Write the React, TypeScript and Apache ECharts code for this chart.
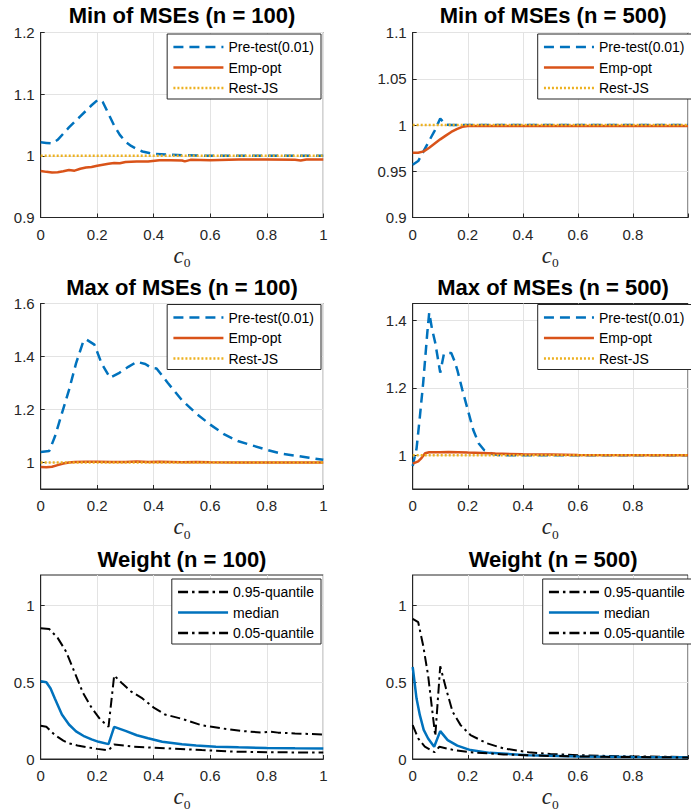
import React, { useEffect, useRef } from 'react';
import * as echarts from 'echarts';

// ---------- texts & ticks ----------
const TITLES = [
  'Min of MSEs (n = 100)',
  'Min of MSEs (n = 500)',
  'Max of MSEs (n = 100)',
  'Max of MSEs (n = 500)',
  'Weight (n = 100)',
  'Weight (n = 500)',
];
const MSE_NAMES = ['Pre-test(0.01)', 'Emp-opt', 'Rest-JS'];
const WEIGHT_NAMES = ['0.95-quantile', 'median', '0.05-quantile'];

const X_TICKS = [0, 0.2, 0.4, 0.6, 0.8, 1];
const Y_TICKS_MIN100 = [0.9, 1, 1.1, 1.2];
const Y_TICKS_MIN500 = [0.9, 0.95, 1, 1.05, 1.1];
const Y_TICKS_MAX100 = [1, 1.2, 1.4, 1.6];
const Y_TICKS_MAX500 = [1, 1.2, 1.4];
const Y_TICKS_WEIGHT = [0, 0.5, 1];

const Y_RANGES = [
  [0.9, 1.2],
  [0.9, 1.1],
  [0.9, 1.6],
  [0.9, 1.45],
  [0, 1.2],
  [0, 1.2],
];

// ---------- data: [c0, value] ----------
const minN100Pretest = [
  [0, 1.022], [0.02, 1.021], [0.04, 1.02], [0.06, 1.026], [0.08, 1.036], [0.1, 1.046],
  [0.12, 1.055], [0.14, 1.064], [0.16, 1.073], [0.18, 1.082], [0.2, 1.09], [0.21, 1.091],
  [0.22, 1.087], [0.24, 1.068], [0.26, 1.049], [0.28, 1.034], [0.3, 1.023], [0.32, 1.016],
  [0.34, 1.011], [0.36, 1.007], [0.38, 1.005], [0.4, 1.003], [0.45, 1.002], [0.5, 1.001],
  [0.55, 1.0005], [0.6, 1.0], [1, 1.0],
];
const minN100Emp = [
  [0, 0.9755], [0.02, 0.974], [0.04, 0.973], [0.06, 0.9735], [0.08, 0.975], [0.1, 0.977],
  [0.12, 0.976], [0.14, 0.979], [0.16, 0.981], [0.18, 0.982], [0.2, 0.984], [0.22, 0.9855],
  [0.24, 0.987], [0.26, 0.9885], [0.28, 0.988], [0.3, 0.99], [0.34, 0.991], [0.38, 0.991],
  [0.42, 0.993], [0.46, 0.993], [0.5, 0.9925], [0.51, 0.991], [0.53, 0.9935], [0.6, 0.993],
  [0.7, 0.994], [0.8, 0.994], [0.9, 0.9935], [0.92, 0.9925], [0.94, 0.994], [1, 0.994],
];
const minN500Pretest = [
  [0, 0.957], [0.02, 0.961], [0.04, 0.972], [0.06, 0.983], [0.08, 0.994], [0.1, 1.007],
  [0.12, 1.0005], [0.14, 1.0], [1, 1.0],
];
const minN500Emp = [
  [0, 0.97], [0.02, 0.97], [0.04, 0.9715], [0.06, 0.9755], [0.08, 0.98], [0.1, 0.9845],
  [0.12, 0.9885], [0.14, 0.9925], [0.16, 0.9955], [0.18, 0.998], [0.2, 0.999], [0.3, 0.999],
  [1, 0.999],
];
const maxN100Pretest = [
  [0, 1.04], [0.03, 1.043], [0.05, 1.097], [0.075, 1.185], [0.1, 1.273], [0.125, 1.374],
  [0.15, 1.455], [0.16, 1.465], [0.19, 1.445], [0.215, 1.375], [0.245, 1.32], [0.275, 1.336],
  [0.31, 1.361], [0.34, 1.38], [0.37, 1.372], [0.39, 1.358], [0.41, 1.355], [0.45, 1.3],
  [0.5, 1.235], [0.55, 1.185], [0.6, 1.143], [0.65, 1.106], [0.7, 1.08], [0.75, 1.064],
  [0.8, 1.048], [0.85, 1.034], [0.9, 1.026], [0.95, 1.018], [1, 1.01],
];
const maxN100Emp = [
  [0, 0.983], [0.02, 0.982], [0.04, 0.984], [0.06, 0.99], [0.08, 0.996], [0.1, 1.0],
  [0.12, 1.002], [0.16, 1.003], [0.2, 1.003], [0.25, 1.002], [0.3, 1.002], [0.34, 1.0035],
  [0.38, 1.002], [0.42, 1.003], [0.46, 1.002], [0.5, 1.001], [0.55, 1.0015], [0.6, 1.0005],
  [0.7, 1.0], [1, 1.0],
];
const maxN500Pretest = [
  [0, 0.968], [0.014, 1.02], [0.026, 1.114], [0.038, 1.214], [0.046, 1.293], [0.053, 1.363],
  [0.06, 1.423], [0.07, 1.375], [0.082, 1.333], [0.091, 1.289], [0.1, 1.245], [0.113, 1.299],
  [0.12, 1.303], [0.14, 1.303], [0.152, 1.279], [0.163, 1.25], [0.18, 1.195], [0.2, 1.135],
  [0.22, 1.075], [0.24, 1.035], [0.26, 1.015], [0.29, 1.004], [0.32, 1.0], [1, 1.0],
];
const maxN500Emp = [
  [0, 0.975], [0.02, 0.982], [0.03, 0.99], [0.045, 1.006], [0.06, 1.009], [0.1, 1.009],
  [0.13, 1.01], [0.2, 1.008], [0.25, 1.007], [0.3, 1.005], [0.4, 1.003], [0.5, 1.002],
  [0.6, 1.001], [1, 1.0],
];
const restJS = [[0, 1], [1, 1]];

const w100Q95 = [
  [0, 0.853], [0.03, 0.848], [0.06, 0.79], [0.09, 0.7], [0.12, 0.565], [0.15, 0.43],
  [0.18, 0.335], [0.21, 0.26], [0.24, 0.21], [0.26, 0.545], [0.29, 0.49], [0.32, 0.44],
  [0.36, 0.395], [0.4, 0.335], [0.44, 0.29], [0.5, 0.262], [0.57, 0.22], [0.64, 0.2],
  [0.71, 0.183], [0.78, 0.173], [0.81, 0.178], [0.84, 0.172], [0.9, 0.167], [1, 0.16],
];
const w100Median = [
  [0, 0.507], [0.02, 0.5], [0.035, 0.46], [0.05, 0.394], [0.075, 0.29], [0.1, 0.225],
  [0.125, 0.18], [0.155, 0.147], [0.18, 0.128], [0.205, 0.112], [0.24, 0.097], [0.26, 0.21],
  [0.3, 0.183], [0.34, 0.155], [0.38, 0.135], [0.43, 0.113], [0.5, 0.096], [0.55, 0.088],
  [0.62, 0.08], [0.7, 0.076], [0.8, 0.072], [0.9, 0.07], [1, 0.069],
];
const w100Q05 = [
  [0, 0.217], [0.02, 0.21], [0.05, 0.156], [0.08, 0.12], [0.1, 0.102], [0.13, 0.088],
  [0.16, 0.078], [0.2, 0.066], [0.24, 0.057], [0.26, 0.095], [0.33, 0.08], [0.45, 0.069],
  [0.57, 0.058], [0.69, 0.048], [0.8, 0.044], [1, 0.042],
];
const w500Q95 = [
  [0, 0.914], [0.02, 0.892], [0.038, 0.74], [0.056, 0.545], [0.073, 0.286], [0.082, 0.15],
  [0.1, 0.605], [0.121, 0.459], [0.145, 0.308], [0.174, 0.221], [0.21, 0.156], [0.27, 0.102],
  [0.33, 0.069], [0.42, 0.044], [0.5, 0.033], [0.6, 0.025], [0.7, 0.02], [0.8, 0.017],
  [0.9, 0.015], [1, 0.013],
];
const w500Median = [
  [0, 0.6], [0.014, 0.394], [0.026, 0.286], [0.04, 0.19], [0.056, 0.134], [0.078, 0.08],
  [0.1, 0.182], [0.127, 0.123], [0.162, 0.087], [0.21, 0.058], [0.28, 0.04], [0.42, 0.025],
  [0.6, 0.017], [0.8, 0.013], [1, 0.011],
];
const w500Q05 = [
  [0, 0.221], [0.02, 0.134], [0.044, 0.08], [0.079, 0.044], [0.097, 0.08], [0.15, 0.058],
  [0.21, 0.044], [0.33, 0.03], [0.5, 0.02], [0.7, 0.014], [1, 0.01],
];

// ---------- styling ----------
const FONT = "'Liberation Sans', Arial, Helvetica, sans-serif";
const SERIF = "'Liberation Serif', 'Times New Roman', serif";
const AX = '#262626';
const BLUE = '#0072BD';
const ORANGE = '#D95319';
const YELLOW = '#EDB120';
const DASH = [10, 6];
const DOT = [2, 2];
const DASHDOT = [10, 4, 2.5, 4];

const GRIDS = [
  { left: 40.7, top: 32.5, width: 282.6, height: 185 },
  { left: 412.7, top: 32.5, width: 280.8, height: 185 },
  { left: 40.7, top: 303.5, width: 282.6, height: 185.5 },
  { left: 412.7, top: 303.5, width: 280.8, height: 185.5 },
  { left: 40.7, top: 575, width: 282.6, height: 185.7 },
  { left: 412.7, top: 575, width: 280.8, height: 185.7 },
];
const TITLE_TOPS = [4.5, 276, 548];
const LEGEND_TOPS = [34, 304.5, 579];

const fmt = (v: number) => String(Math.round(v * 1000) / 1000);

function buildOption() {
  const yTicks = [Y_TICKS_MIN100, Y_TICKS_MIN500, Y_TICKS_MAX100, Y_TICKS_MAX500, Y_TICKS_WEIGHT, Y_TICKS_WEIGHT];
  const grid = GRIDS.map((g) => ({
    ...g,
    show: true,
    borderColor: AX,
    borderWidth: 1,
    backgroundColor: '#fff',
    containLabel: false,
  }));
  const xAxis = GRIDS.map((g, i) => ({
    type: 'value',
    gridIndex: i,
    min: 0,
    max: 1,
    axisLine: { show: true, onZero: false, lineStyle: { color: AX, width: 1 } },
    axisTick: { show: true, inside: true, length: 4, customValues: X_TICKS, lineStyle: { color: AX } },
    axisLabel: {
      customValues: X_TICKS,
      margin: 9,
      fontFamily: FONT,
      fontSize: 15,
      color: AX,
      formatter: (v: number) => (i % 2 === 1 && v === 1 ? '' : fmt(v)),
    },
    splitLine: { show: true, lineStyle: { color: '#e3e3e3', width: 1 } },
    name: '{c|c}{s|0}',
    nameLocation: 'middle',
    nameGap: 26,
    nameTextStyle: {
      rich: {
        c: { fontFamily: SERIF, fontStyle: 'italic', fontSize: 23, color: AX, verticalAlign: 'bottom', padding: [0, 0, 3, 0] },
        s: { fontFamily: SERIF, fontSize: 13.5, color: AX, verticalAlign: 'bottom' },
      },
    },
  }));
  const yAxis = GRIDS.map((g, i) => ({
    type: 'value',
    gridIndex: i,
    min: Y_RANGES[i][0],
    max: Y_RANGES[i][1],
    axisLine: { show: true, onZero: false, lineStyle: { color: AX, width: 1 } },
    axisTick: { show: true, inside: true, length: 4, customValues: yTicks[i], lineStyle: { color: AX } },
    axisLabel: { customValues: yTicks[i], margin: 6, fontFamily: FONT, fontSize: 15, color: AX, formatter: fmt },
    splitLine: { show: true, lineStyle: { color: '#e3e3e3', width: 1 } },
  }));
  const title = TITLES.map((t, i) => ({
    text: t,
    left: GRIDS[i].left + GRIDS[i].width / 2,
    top: TITLE_TOPS[Math.floor(i / 2)],
    textAlign: 'center',
    padding: 0,
    textStyle: { fontFamily: FONT, fontSize: 22, fontWeight: 'bold', color: '#000' },
  }));
  const legend = TITLES.map((t, i) => {
    const pos: any = i % 2 === 0 ? { right: 370 } : { left: i < 4 ? 537.7 : 542.7 };
    return {
      ...pos,
      top: LEGEND_TOPS[Math.floor(i / 2)],
      orient: 'vertical',
      data: i < 4 ? MSE_NAMES : WEIGHT_NAMES,
      itemWidth: 50,
      itemHeight: 14,
      itemGap: 6.5,
      padding: [6, 7, 4, 5],
      backgroundColor: '#fff',
      borderColor: AX,
      borderWidth: 1,
      borderRadius: 0,
      selectedMode: false,
      itemStyle: { opacity: 0, borderWidth: 0 },
      lineStyle: { width: 2.5 },
      textStyle: { fontFamily: FONT, fontSize: 14, color: '#000' },
    };
  });

  const line = (name: string, idx: number, data: number[][], color: string, type: any, width = 2.5) => ({
    type: 'line',
    name,
    xAxisIndex: idx,
    yAxisIndex: idx,
    data,
    symbol: 'none',
    showSymbol: false,
    silent: true,
    clip: true,
    lineStyle: { color, width, type },
    itemStyle: { color },
  });

  const series = [
    line(MSE_NAMES[0], 0, minN100Pretest, BLUE, DASH),
    line(MSE_NAMES[1], 0, minN100Emp, ORANGE, 'solid'),
    line(MSE_NAMES[2], 0, restJS, YELLOW, DOT),
    line(MSE_NAMES[0], 1, minN500Pretest, BLUE, DASH),
    line(MSE_NAMES[1], 1, minN500Emp, ORANGE, 'solid'),
    line(MSE_NAMES[2], 1, restJS, YELLOW, DOT),
    line(MSE_NAMES[0], 2, maxN100Pretest, BLUE, DASH),
    line(MSE_NAMES[1], 2, maxN100Emp, ORANGE, 'solid'),
    line(MSE_NAMES[2], 2, restJS, YELLOW, DOT),
    line(MSE_NAMES[0], 3, maxN500Pretest, BLUE, DASH),
    line(MSE_NAMES[1], 3, maxN500Emp, ORANGE, 'solid'),
    line(MSE_NAMES[2], 3, restJS, YELLOW, DOT),
    line(WEIGHT_NAMES[0], 4, w100Q95, '#000', DASHDOT, 2),
    line(WEIGHT_NAMES[1], 4, w100Median, BLUE, 'solid'),
    line(WEIGHT_NAMES[2], 4, w100Q05, '#000', DASHDOT, 2),
    line(WEIGHT_NAMES[0], 5, w500Q95, '#000', DASHDOT, 2),
    line(WEIGHT_NAMES[1], 5, w500Median, BLUE, 'solid'),
    line(WEIGHT_NAMES[2], 5, w500Q05, '#000', DASHDOT, 2),
  ];

  return {
    animation: false,
    backgroundColor: '#fff',
    title,
    legend,
    grid,
    xAxis,
    yAxis,
    series,
  };
}

export default function App() {
  const ref = useRef<HTMLDivElement>(null);
  useEffect(() => {
    if (!ref.current) return;
    const chart = echarts.init(ref.current, undefined, { renderer: 'svg' });
    chart.setOption(buildOption() as any);
    return () => chart.dispose();
  }, []);
  return (
    <div
      ref={ref}
      style={{ position: 'fixed', left: 0, top: 0, width: 691, height: 812, background: '#fff' }}
    />
  );
}
